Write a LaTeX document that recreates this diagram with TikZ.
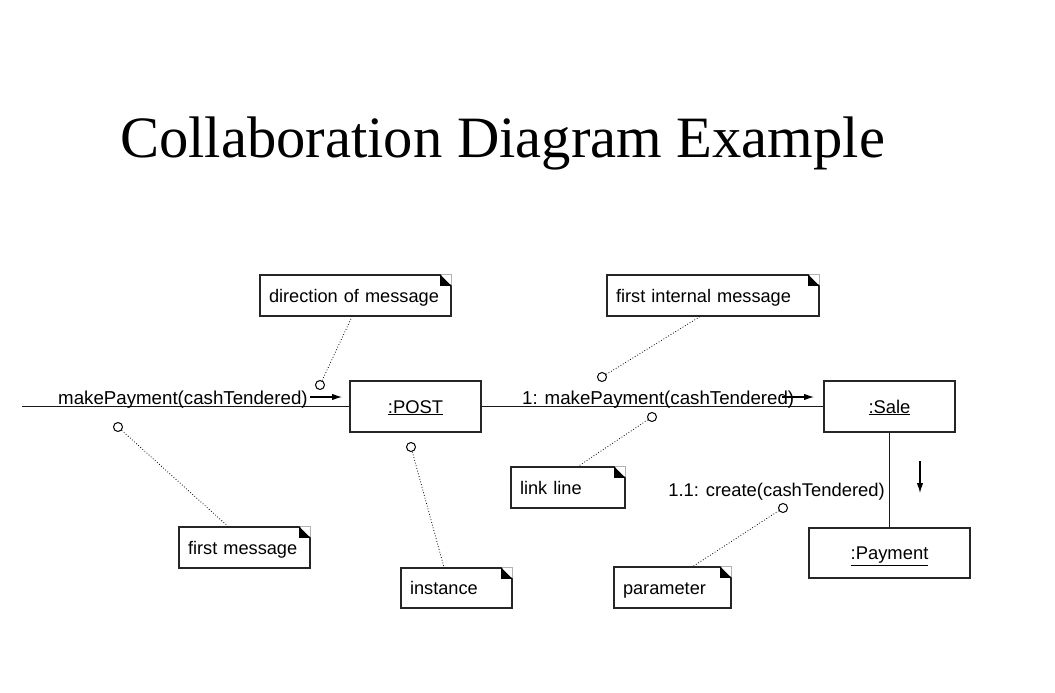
\documentclass[tikz,border=0pt]{standalone}
\usepackage{fontspec}
\setmainfont{Liberation Sans}
\newfontfamily\titlefont{Liberation Serif}
\usetikzlibrary{arrows.meta,calc}
\tikzset{
  lbl/.style={font=\fontsize{18.4}{22}\selectfont, inner sep=0pt},
  msg/.style={font=\fontsize{18.7}{22}\selectfont, inner sep=0pt},
  obj/.style={draw=black!85, line width=1.3pt, fill=white, font=\fontsize{18.4}{22}\selectfont,
     text height=13.2pt, text depth=0pt, inner sep=0pt},
  note/.style={draw=black!85, line width=1.2pt, fill=white, font=\fontsize{18.2}{22}\selectfont,
     text height=13.1pt, text depth=0pt, inner xsep=9pt, inner ysep=0pt, align=left},
  pin/.style={circle, draw=black, line width=1pt, fill=white, minimum size=9pt, inner sep=0pt},
  link/.style={draw=black!90, line width=1.2pt},
  dots/.style={draw=black, line width=0.8pt, dotted},
  dirarrow/.style={draw=black, line width=1.1pt, -{Latex[length=10pt,width=6.5pt]}},
}
\newcommand{\notecorner}[1]{%
  \fill[white] ($(#1.north east)+(-11,0)$) -- (#1.north east) -- ($(#1.north east)+(0,11)$) -- cycle;
  \draw[black!30, line width=0.6pt] ($(#1.north east)+(-11,0)$) -- (#1.north east) -- ($(#1.north east)+(0,11)$);
  \fill[black] ($(#1.north east)+(-11.5,0)$) -- ($(#1.north east)+(0,11.5)$) -- ($(#1.north east)+(-11.5,11.5)$) -- cycle;
}
\begin{document}
\begin{tikzpicture}[x=1pt,y=-1pt]
\useasboundingbox[fill=white] (0,0) rectangle (1055,693);

% title
\node[anchor=base west, inner sep=0pt, font=\titlefont\fontsize{58.6}{68}\selectfont] (title) at (120,157) {Collaboration Diagram Example};

% objects
\node[obj, minimum width=131pt, minimum height=51pt] (post) at (415.5,406.5) {\underline{:POST}};
\node[obj, minimum width=131pt, minimum height=51pt] (sale) at (889.5,406.5) {\underline{:Sale}};
\node[obj, minimum width=161pt, minimum height=50pt] (pay) at (889.5,553) {\underline{:Payment}};

% links
\coordinate (start) at (22,406.5);
\draw[link] (start) -- (post.west);
\draw[link] (post.east) -- (sale.west);
\draw[link] (sale.south) -- (pay.north);

% message labels
\node[msg, anchor=base west] (m1) at (58,404) {makePayment(cashTendered)};
\node[msg, anchor=base west] (m2) at (522,404) {1: makePayment(cashTendered)};
\node[lbl, anchor=base east] (m3) at (885,496) {1.1: create(cashTendered)};

% direction arrows
\coordinate (a1s) at (310,397); \coordinate (a1e) at (342,397);
\coordinate (a2s) at (782,397); \coordinate (a2e) at (814,397);
\coordinate (a3s) at (920,461); \coordinate (a3e) at (920,493);
\draw[dirarrow] (a1s) -- (a1e);
\draw[dirarrow] (a2s) -- (a2e);
\draw[dirarrow] (a3s) -- (a3e);

% notes
\node[note, minimum width=191pt, minimum height=41pt, text width=173pt] (ndir) at (355.5,295.5) {\mbox{direction of message}};
\node[note, minimum width=212pt, minimum height=41pt, text width=194pt] (nfim) at (713,295.5) {\mbox{first internal message}};
\node[note, minimum width=114pt, minimum height=41pt, text width=96pt] (nlink) at (568,487.5) {\mbox{link line}};
\node[note, minimum width=117pt, minimum height=41pt, text width=99pt] (nparam) at (672.5,587.5) {\mbox{parameter}};
\node[note, minimum width=131pt, minimum height=41pt, text width=113pt] (nfirst) at (244.5,547.5) {\mbox{first message}};
\node[note, minimum width=111pt, minimum height=40pt, text width=93pt] (ninst) at (456.5,588) {\mbox{instance}};
\foreach \n in {ndir,nfim,nlink,nparam,nfirst,ninst} {\notecorner{\n}}

% pins
\node[pin] (p1) at (320,385) {};
\node[pin] (p2) at (118,427) {};
\node[pin] (p3) at (411,447) {};
\node[pin] (p4) at (602,377) {};
\node[pin] (p5) at (652,417) {};
\node[pin] (p6) at (783,508) {};

\draw[dots] (p1) -- ($(ndir.south)+(-3.5,0)$);
\draw[dots] (p2) -- ($(nfirst.north)+(-16.5,0)$);
\draw[dots] (p3) -- ($(ninst.north)+(-12.5,0)$);
\draw[dots] (p4) -- ($(nfim.south)+(-13,0)$);
\draw[dots] (p5) -- ($(nlink.north)+(10,0)$);
\draw[dots] (p6) -- ($(nparam.north)+(20.5,0)$);
\end{tikzpicture}
\end{document}
